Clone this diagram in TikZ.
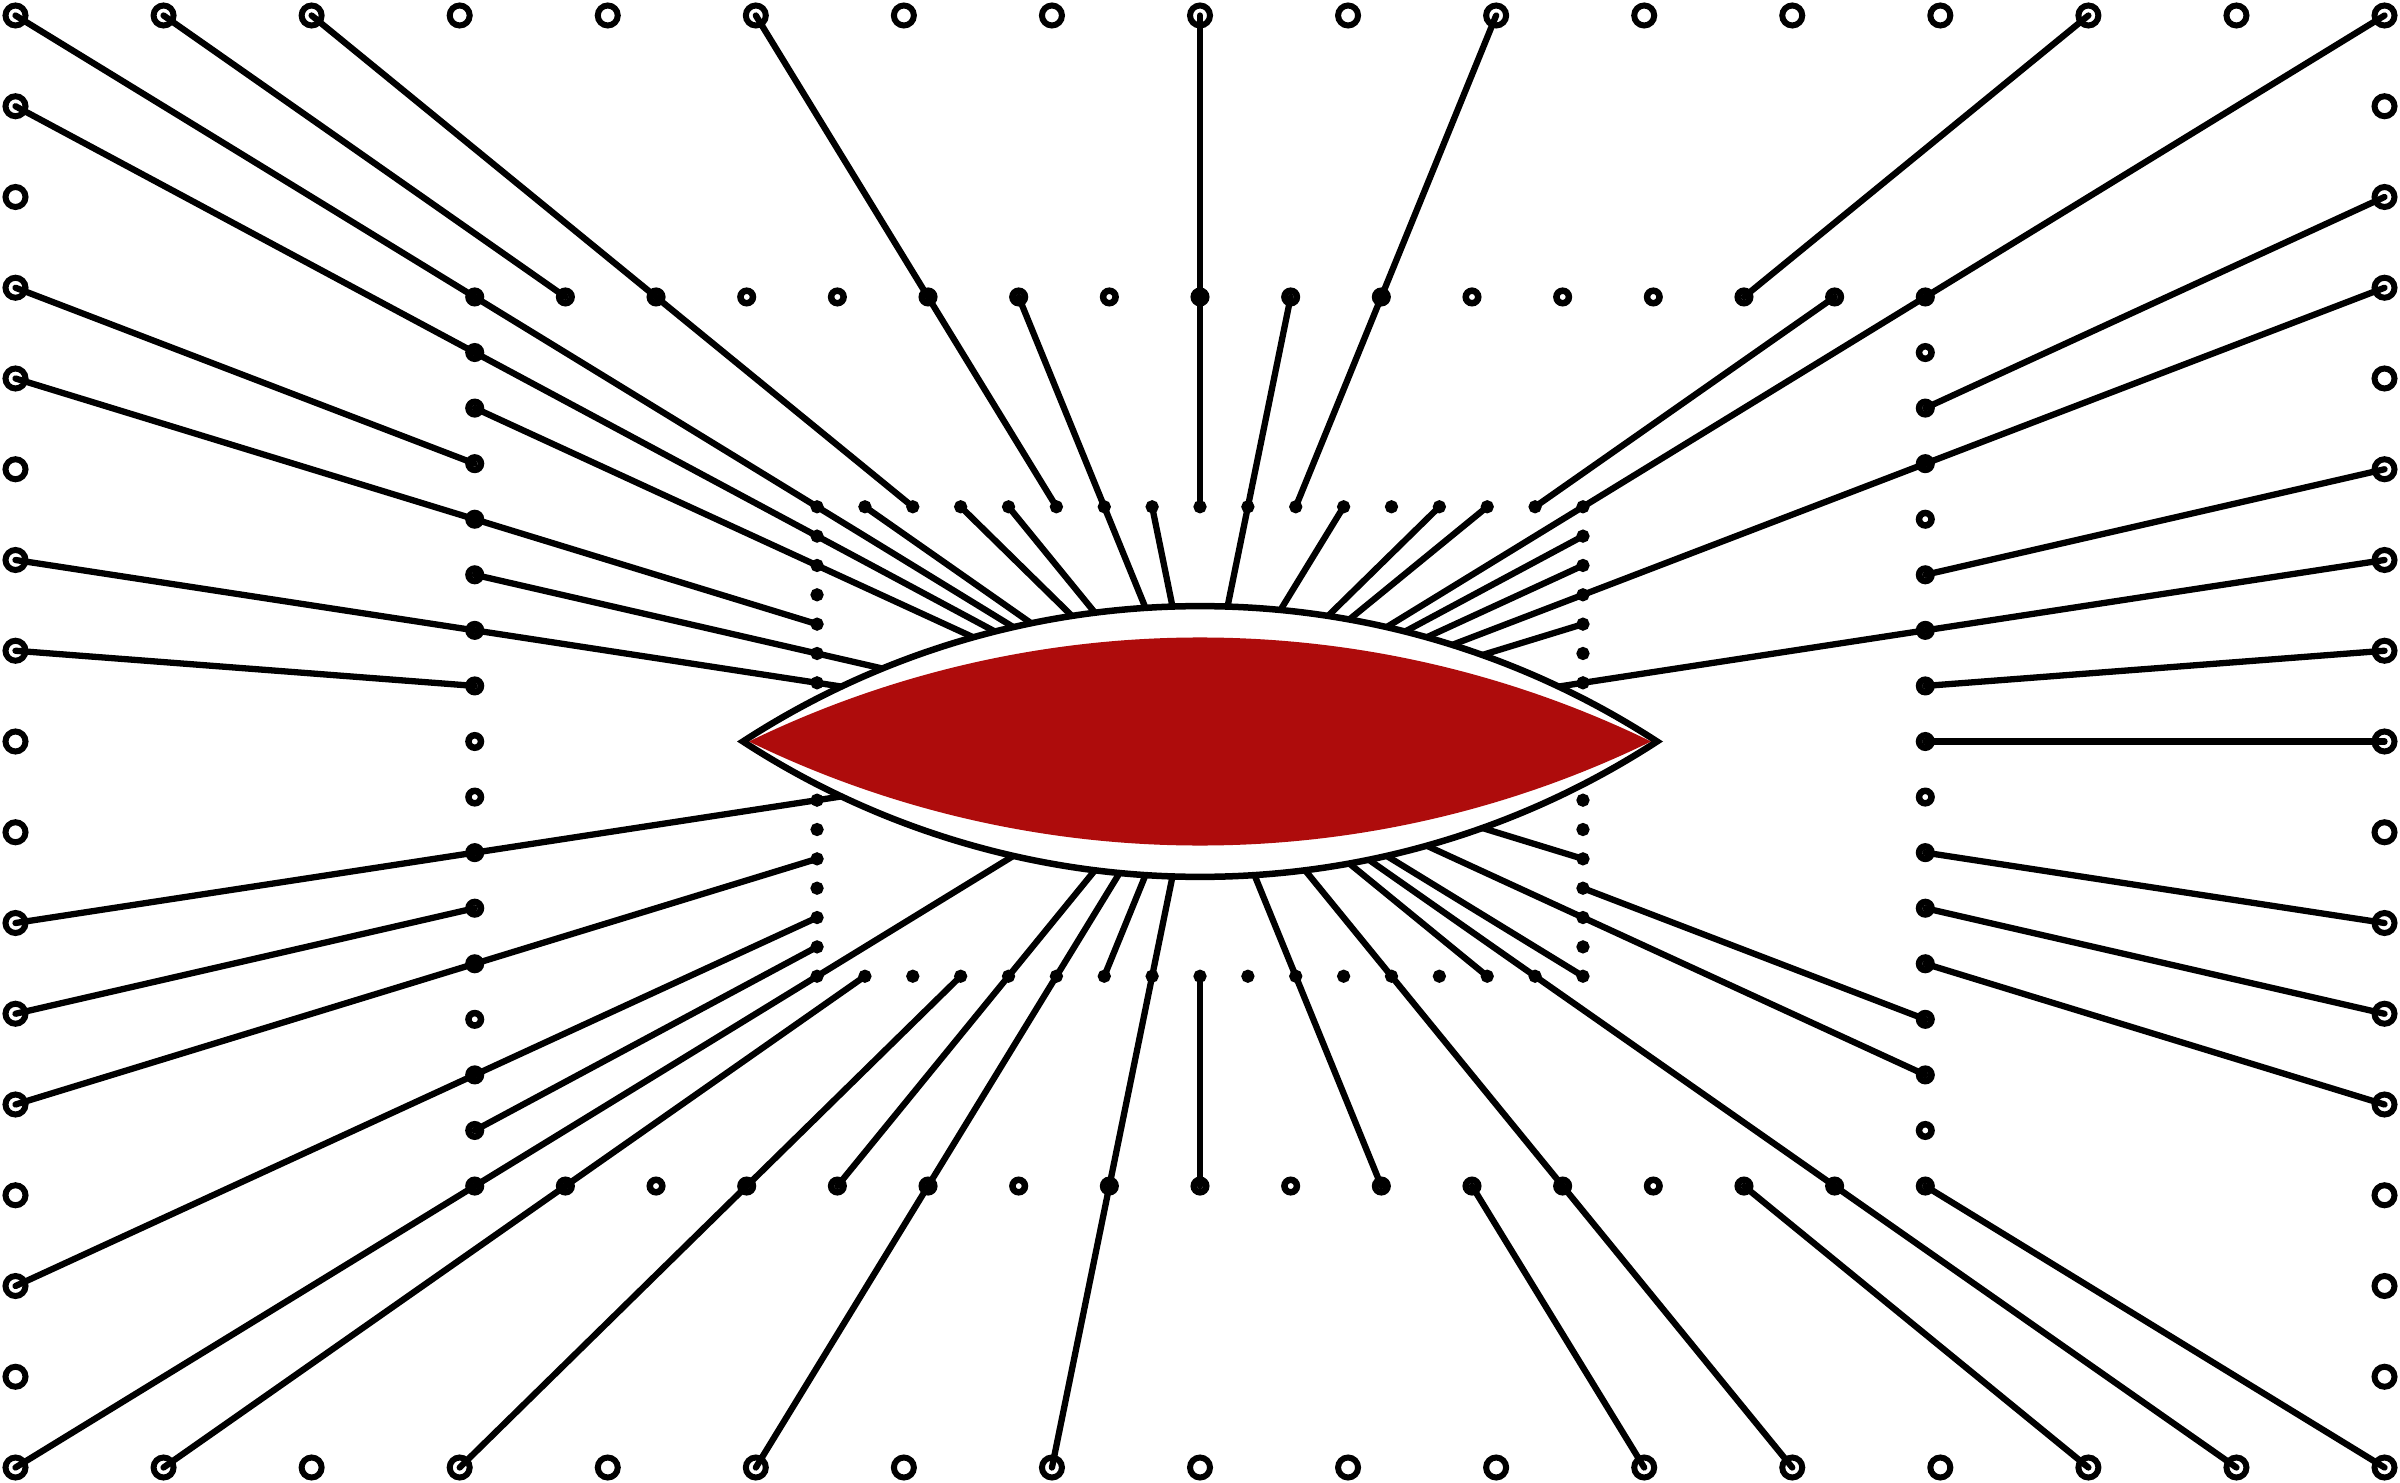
\documentclass[tikz,border=0pt]{standalone}
\definecolor{lensred}{RGB}{174,12,12}
\tikzset{
  outerpt/.style={circle, draw=black, line width=0.6mm, minimum size=2mm, inner sep=0pt},
  midpt/.style={circle, draw=black, line width=0.65mm, minimum size=1.25mm, inner sep=0pt},
  innerpt/.style={circle, draw=black, fill=black, line width=0.5mm, minimum size=0.8mm, inner sep=0pt},
  ray/.style={draw=black, line width=0.63mm, line cap=round},
  lensedge/.style={draw=black, line width=0.65mm, fill=white, line join=miter},
  lenscore/.style={fill=lensred}
}
\begin{document}
\begin{tikzpicture}[x=0.1mm, y=-0.1mm]
\useasboundingbox (0,0) rectangle (2400,1483);
\fill[white] (0,0) rectangle (2400,1483);
\coordinate (C) at (1200,741.5);
% ring points: O = outer, M = middle, I = inner
\foreach \ring/\s/\sty in {O/1/outerpt, M/0.6123/midpt, I/0.3233/innerpt} {
  \foreach \n in {0,...,16} {
    \pgfmathsetmacro{\u}{-1+\n/8}
    \node[\sty] (\ring-t-\n) at ({1200+\u*1184.5*\s},{741.5-726*\s}) {};
    \node[\sty] (\ring-b-\n) at ({1200+\u*1184.5*\s},{741.5+726*\s}) {};
  }
  \foreach \n in {1,...,15} {
    \pgfmathsetmacro{\v}{-1+\n/8}
    \node[\sty] (\ring-l-\n) at ({1200-1184.5*\s},{741.5+\v*726*\s}) {};
    \node[\sty] (\ring-r-\n) at ({1200+1184.5*\s},{741.5+\v*726*\s}) {};
  }
}
% outer -> middle
\foreach \k in {t-0,t-1,t-2,t-5,t-8,t-10,t-14,t-16,
                r-2,r-3,r-5,r-6,r-7,r-8,r-10,r-11,r-12,
                b-0,b-1,b-3,b-5,b-7,b-11,b-12,b-14,b-15,b-16,
                l-1,l-3,l-4,l-6,l-7,l-10,l-11,l-12,l-14}
  \draw[ray] (O-\k.center) -- (M-\k.center);
% middle -> inner
\foreach \k in {t-0,t-2,t-5,t-6,t-8,t-9,t-10,t-15,t-16,
                r-3,r-6,r-13,r-14,
                b-0,b-1,b-3,b-4,b-5,b-7,b-8,b-10,b-12,b-15,
                l-1,l-2,l-4,l-5,l-6,l-10,l-12,l-14,l-15}
  \draw[ray] (M-\k.center) -- (I-\k.center);
% inner -> lens
\foreach \k in {t-0,t-1,t-3,t-4,t-6,t-7,t-9,t-11,t-13,t-14,t-16,
                r-1,r-2,r-3,r-4,r-6,r-12,r-14,
                b-0,b-4,b-5,b-6,b-7,b-10,b-12,b-14,b-15,b-16,
                l-1,l-2,l-5,l-6,l-10}
  \draw[ray] (I-\k.center) -- (C);
% lens
\draw[lensedge] (743,741.5) .. controls (1020.6,561.0) and (1379.4,561.0) .. (1657,741.5)
  .. controls (1379.4,922.0) and (1020.6,922.0) .. (743,741.5) -- cycle;
\fill[lenscore] (749,741.5) .. controls (1033.7,602.8) and (1366.3,602.8) .. (1651,741.5)
  .. controls (1366.3,880.2) and (1033.7,880.2) .. (749,741.5) -- cycle;
\end{tikzpicture}
\end{document}
